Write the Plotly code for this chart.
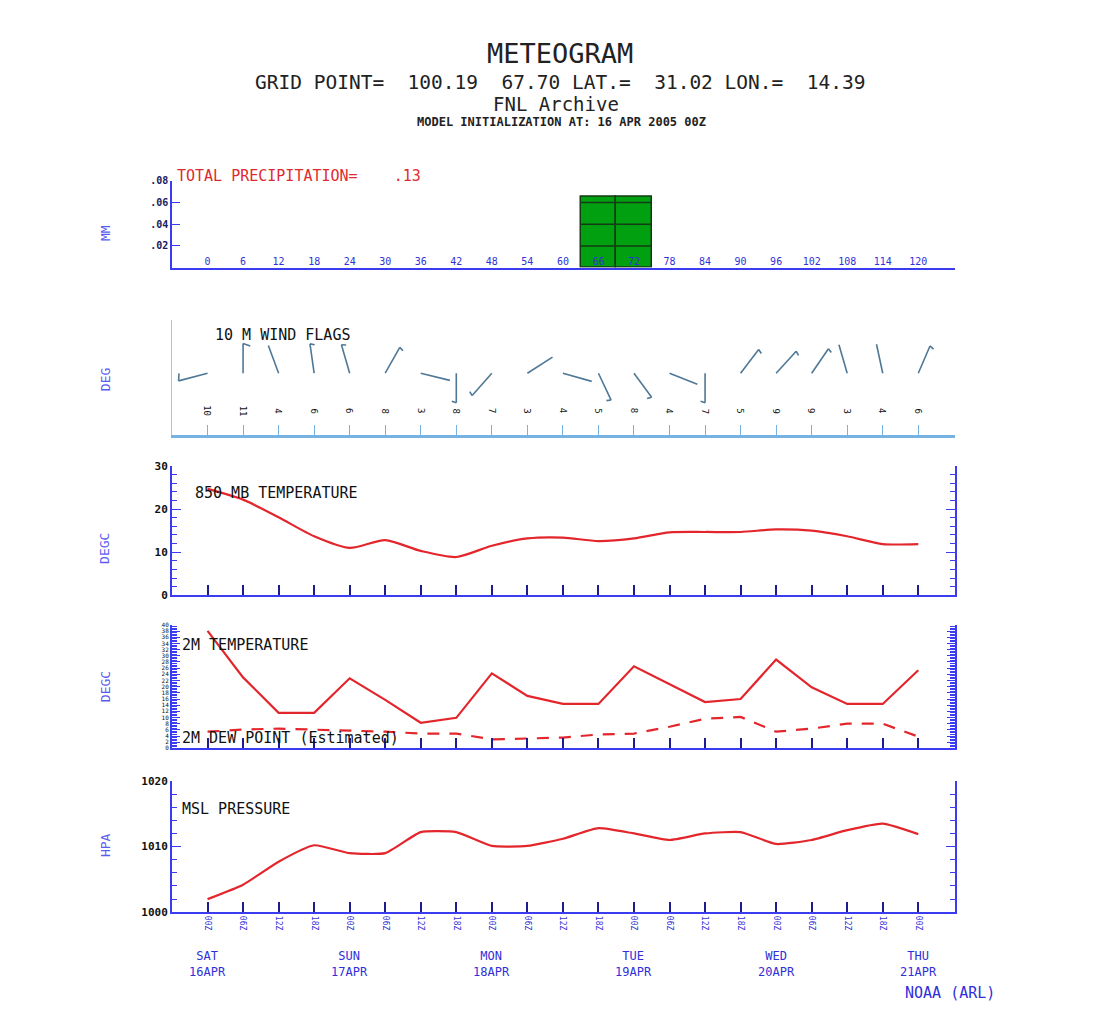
import numpy as np
import plotly.graph_objects as go

# ---------------- data ----------------
hours = list(range(0, 121, 6))
time_labels = ["00Z", "06Z", "12Z", "18Z"] * 5 + ["00Z"]
day_hours = [0, 24, 48, 72, 96, 120]
day_labels = ["SAT<br>16APR", "SUN<br>17APR", "MON<br>18APR", "TUE<br>19APR", "WED<br>20APR", "THU<br>21APR"]

precip_hours = [66, 72]
precip_mm = [0.065, 0.065]
precip_ticks = [0.02, 0.04, 0.06, 0.08]
precip_ticktext = [".02", ".04", ".06", ".08"]

wind_dir = [255, 0, 340, 352, 344, 29, 104, 180, 221, 57, 106, 155, 144, 112, 180, 37, 42, 34, 344, 348, 23]
wind_speed = [10, 11, 4, 6, 6, 8, 3, 8, 7, 3, 4, 5, 8, 4, 7, 5, 9, 9, 3, 4, 6]

t850 = [24.7, 22.2, 18.1, 13.7, 11.0, 12.8, 10.3, 8.9, 11.5, 13.2, 13.4, 12.6, 13.2, 14.6, 14.7, 14.7,
        15.3, 15.0, 13.7, 11.9, 11.9]
t2m = [38.1, 23.0, 11.5, 11.5, 22.7, 15.7, 8.3, 9.9, 24.3, 17.0, 14.4, 14.4, 26.6, 20.8, 15.0, 16.0,
       28.8, 19.8, 14.4, 14.4, 25.3]
td2m = [5.4, 6.1, 6.4, 6.1, 5.8, 5.4, 4.8, 4.8, 2.9, 3.2, 3.5, 4.5, 4.8, 7.0, 9.6, 10.2, 5.4, 6.4,
        8.0, 8.0, 3.8]
mslp = [1002.0, 1004.2, 1007.7, 1010.2, 1009.0, 1009.0, 1012.2, 1012.2, 1010.1, 1010.1, 1011.2, 1012.8,
        1012.0, 1011.0, 1012.0, 1012.2, 1010.4, 1011.0, 1012.5, 1013.5, 1011.9]

# ---------------- styling ----------------
W, H = 1120, 1014
FONT = "DejaVu Sans Mono"
BLUE = "#3b3bf0"
TICKBLUE = "#1c1c90"
LABELBLUE = "#5b5bf0"
RED = "#e3262c"
WINDBLUE = "#76b2e2"
BARB = "#4f7896"
XR = [-6.0, 126.2]


def px(x):
    return x / W


def py(y):
    return 1 - y / H


X0, X1 = px(172), px(955)
PX_PER_HR = (955 - 172) / (XR[1] - XR[0])

fig = go.Figure()

# precipitation bars
fig.add_trace(go.Bar(x=precip_hours, y=precip_mm, width=6, marker=dict(color="#00a010",
              line=dict(color="#153a15", width=1.5)), xaxis="x", yaxis="y", showlegend=False))
bw = precip_hours[1] - precip_hours[0]
gx, gy = [], []
for c, v in zip(precip_hours, precip_mm):
    for t in precip_ticks:
        if t < v:
            gx += [c - bw / 2, c + bw / 2, None]
            gy += [t, t, None]
fig.add_trace(go.Scatter(x=gx, y=gy, mode="lines", line=dict(color="#153a15", width=1.5),
                         xaxis="x", yaxis="y", showlegend=False, hoverinfo="skip"))

# wind barbs
BASE, STAFF = 63, 30
bx, by = [], []
for h, d, s in zip(hours, wind_dir, wind_speed):
    r = np.radians(d)
    ux, uy = np.sin(r), np.cos(r)
    tx = h + STAFF * ux / PX_PER_HR
    ty = BASE + STAFF * uy
    bx += [h, tx, None]
    by += [BASE, ty, None]
    if s >= 5:
        fl = 8 if s >= 10 else 5
        pxv, pyv = uy, -ux
        fx = tx + fl * (pxv * 0.9 - ux * 0.3) / PX_PER_HR
        fy = ty + fl * (pyv * 0.9 - uy * 0.3)
        bx += [tx, fx, None]
        by += [ty, fy, None]
fig.add_trace(go.Scatter(x=bx, y=by, mode="lines", line=dict(color=BARB, width=1.6),
                         xaxis="x2", yaxis="y2", showlegend=False, hoverinfo="skip"))

# 850 temperature
fig.add_trace(go.Scatter(x=hours, y=t850, mode="lines", line=dict(color=RED, width=2.2, shape="spline",
                         smoothing=0.7), xaxis="x3", yaxis="y3", showlegend=False))
# 2 m temperature / dew point
fig.add_trace(go.Scatter(x=hours, y=t2m, mode="lines", line=dict(color=RED, width=2.2),
                         xaxis="x4", yaxis="y4", showlegend=False))
fig.add_trace(go.Scatter(x=hours, y=td2m, mode="lines", line=dict(color=RED, width=2.2, dash="12px,10px"),
                         xaxis="x4", yaxis="y4", showlegend=False))
# MSL pressure
fig.add_trace(go.Scatter(x=hours, y=mslp, mode="lines", line=dict(color=RED, width=2.2, shape="spline",
                         smoothing=0.5), xaxis="x5", yaxis="y5", showlegend=False))

common_x = dict(range=XR, domain=[X0, X1], showgrid=False, zeroline=False, showline=True,
                fixedrange=True)

lay = dict(
    width=W, height=H, margin=dict(l=0, r=0, t=0, b=0), paper_bgcolor="white", plot_bgcolor="white",
    showlegend=False, bargap=0,
    font=dict(family=FONT, color="#111111"),
    xaxis=dict(**common_x, anchor="y", linecolor=BLUE, linewidth=2, tickvals=hours,
               ticktext=[str(h) for h in hours], ticks="", ticklabelposition="inside",
               tickfont=dict(size=10, color="#3030d8", family=FONT)),
    yaxis=dict(domain=[py(265), py(177)], range=[0, 0.08], anchor="x", showgrid=False, zeroline=False,
               showline=True, linecolor=BLUE, linewidth=1.5, tickvals=precip_ticks,
               ticktext=precip_ticktext, ticks="inside", ticklen=8, tickcolor=BLUE,
               tickfont=dict(size=10, color="#1a1a60", family=FONT, weight="bold")),
    xaxis2=dict(**common_x, anchor="y2", linecolor=WINDBLUE, linewidth=3, tickvals=hours + [XR[1]],
                ticks="inside", ticklen=10, tickcolor=WINDBLUE, tickwidth=1.2, showticklabels=False),
    yaxis2=dict(domain=[py(435), py(318)], range=[0, 117], anchor="x2", showgrid=False, zeroline=False,
                showline=True, linecolor="#9cc8ea", linewidth=1, tickvals=[116], ticks="inside",
                ticklen=12, tickcolor="#9cc8ea", showticklabels=False),
    xaxis3=dict(**common_x, anchor="y3", linecolor=BLUE, linewidth=2, tickvals=hours, ticks="inside",
                ticklen=10, tickcolor=TICKBLUE, tickwidth=1.5, showticklabels=False),
    yaxis3=dict(domain=[py(597), py(466)], range=[0, 30], anchor="x3", showgrid=False, zeroline=False,
                showline=True, linecolor=BLUE, linewidth=2, mirror="ticks", dtick=10, ticks="inside",
                ticklen=9, tickcolor=BLUE, minor=dict(dtick=2, ticks="inside", ticklen=5, tickcolor=BLUE),
                tickfont=dict(size=11, color="#111111", family=FONT, weight="bold")),
    xaxis4=dict(**common_x, anchor="y4", linecolor=BLUE, linewidth=2, tickvals=hours, ticks="inside",
                ticklen=10, tickcolor=TICKBLUE, tickwidth=1.5, showticklabels=False),
    yaxis4=dict(domain=[py(752), py(627)], range=[0, 40], anchor="x4", showgrid=False, zeroline=False,
                showline=True, linecolor=BLUE, linewidth=2, mirror="ticks", dtick=2, ticks="inside",
                ticklen=8, tickcolor=BLUE, minor=dict(dtick=0.5, ticks="inside", ticklen=5, tickcolor=BLUE),
                tickfont=dict(size=6, color="#111111", family=FONT)),
    xaxis5=dict(**common_x, anchor="y5", linecolor=BLUE, linewidth=2, tickvals=hours, ticktext=time_labels,
                ticks="inside", ticklen=10, tickcolor=TICKBLUE, tickwidth=1.5, tickangle=90,
                tickfont=dict(size=8, color="#3030d8", family=FONT)),
    yaxis5=dict(domain=[py(918), py(785)], range=[1000, 1020], anchor="x5", showgrid=False, zeroline=False,
                showline=True, linecolor=BLUE, linewidth=2, mirror="ticks", dtick=10, ticks="inside",
                ticklen=9, tickcolor=BLUE, minor=dict(dtick=2, ticks="inside", ticklen=5, tickcolor=BLUE),
                tickfont=dict(size=11, color="#111111", family=FONT, weight="bold")),
)
fig.update_layout(**lay)

ann = []


def text(x, y, s, size, color="#111111", xanchor="left", weight="normal", angle=0):
    ann.append(dict(x=px(x), y=py(y), xref="paper", yref="paper", text=s, showarrow=False,
                    xanchor=xanchor, yanchor="middle", textangle=angle,
                    font=dict(family=FONT, size=size, color=color, weight=weight)))


# titles
text(560, 48, "METEOGRAM", 27, "#222222", "center")
text(560, 78, "GRID POINT=  100.19  67.70 LAT.=  31.02 LON.=  14.39", 19.5, "#222222", "center")
text(556, 99, "FNL Archive", 19, "#222222", "center")
text(561, 117, "MODEL INITIALIZATION AT: 16 APR 2005 00Z", 12, "#222222", "center", "bold")

# panel labels
text(175, 172, "TOTAL PRECIPITATION=    .13", 15, "#e02a30")
text(213, 333, "10 M WIND FLAGS", 15)
text(193, 493, "850 MB TEMPERATURE", 15)
text(180, 647, "2M TEMPERATURE", 15)
text(180, 742, "2M DEW POINT (Estimated)", 15)
text(180, 813, "MSL PRESSURE", 15)

# y axis titles
for yy, s in [(230, "MM"), (378, "DEG"), (550, "DEGC"), (690, "DEGC"), (850, "HPA")]:
    text(105, yy, s, 13, LABELBLUE, "center", angle=-90)

# wind speed numbers
for h, s in zip(hours, wind_speed):
    ann.append(dict(x=h, y=25, xref="x2", yref="y2", text=str(s), showarrow=False, textangle=90,
                    font=dict(family=FONT, size=9, color="#111111")))

# day labels
for h, s in zip(day_hours, day_labels):
    ann.append(dict(x=h, y=py(970), xref="x5", yref="paper", text=s, showarrow=False, align="center",
                    yanchor="middle", font=dict(family=FONT, size=12, color="#3030d8")))

text(950, 1000, "NOAA (ARL)", 15, "#3030d8", "center")

fig.update_layout(annotations=ann)
fig.write_html("out.html", config={"displayModeBar": False},
               post_script="document.body.style.margin='0';")
